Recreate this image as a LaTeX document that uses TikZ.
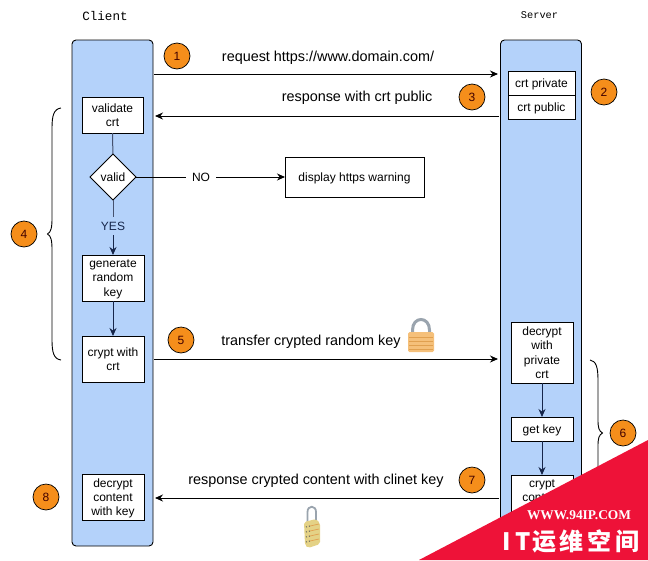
\documentclass[tikz,border=0pt]{standalone}
\usepackage{fontspec}
\setmainfont{Liberation Sans}
\newfontfamily\monofam{Liberation Mono}
\newfontfamily\wmserif{Liberation Serif}
\newfontfamily\cjkfam{Noto Sans CJK SC}
\usetikzlibrary{shapes.geometric,arrows.meta}
\definecolor{lane}{HTML}{B4D2FA}
\definecolor{badge}{HTML}{F58E1B}
\definecolor{navy}{HTML}{16264A}
\definecolor{wmred}{HTML}{EE1238}
\definecolor{lockor}{HTML}{F5C07A}
\definecolor{lockdk}{HTML}{E0A050}
\definecolor{lockgr}{HTML}{9AA4AE}
\definecolor{lockye}{HTML}{E4D286}
\tikzset{
  x=1pt,y=-1pt,
  every node/.style={font=\fontsize{12}{14}\selectfont,inner sep=0pt,outer sep=0pt},
  lanebox/.style={draw=black,line width=.9pt,fill=lane,rounded corners=4pt,minimum width=81pt,minimum height=506pt},
  stepbox/.style={draw=black,line width=.8pt,fill=white,align=center,text depth=0pt,font=\fontsize{12}{14.3}\selectfont},
  decision/.style={diamond,draw=black,line width=.8pt,fill=white,minimum width=46pt,minimum height=46pt,font=\fontsize{12}{13}\selectfont},
  badgenode/.style={circle,draw=black,line width=.7pt,fill=badge,minimum size=26pt,font=\fontsize{12}{13}\selectfont,text=black!75!red},
  msg/.style={draw=black,line width=.9pt,-{Stealth[length=8pt,width=7pt]}},
  plain/.style={draw=black,line width=.9pt},
  flow/.style={draw=navy,line width=.9pt,-{Stealth[length=8pt,width=7pt]}},
  flowplain/.style={draw=navy!80,line width=1pt},
  curly/.style={draw=black,line width=.9pt},
  msgtext/.style={font=\fontsize{14.4}{16}\selectfont}
}
\begin{document}
\begin{tikzpicture}
\useasboundingbox (0,0) rectangle (648,560);
% lanes
\node[lanebox] (client) at (112.5,293) {};
\node[lanebox] (server) at (541,293) {};
\node[font=\monofam\fontsize{12.6}{14}\selectfont] (clientlbl) at (105,16) {Client};
\node[font=\monofam\fontsize{10.3}{12}\selectfont] (serverlbl) at (539.5,15) {Server};
% client steps
\node[stepbox,minimum width=61pt,minimum height=36pt] (validate) at (112.5,115) {validate\\crt};
\node[decision] (valid) at (113,177) {valid};
\node[text=navy] (yes) at (113,226) {YES};
\node[stepbox,minimum width=62pt,minimum height=46pt] (generate) at (113,278) {generate\\random\\key};
\node[stepbox,minimum width=62pt,minimum height=46pt] (crypt) at (113,359) {crypt with\\crt};
\node[stepbox,minimum width=62pt,minimum height=46pt] (decc) at (113,497) {decrypt\\content\\with key};
\node (no) at (201,177) {NO};
\node[stepbox,minimum width=139pt,minimum height=40pt] (warn) at (354.5,177) {display https warning};
% server steps
\node[stepbox,minimum width=67pt,minimum height=24pt] (priv) at (541.5,83) {crt private};
\node[stepbox,minimum width=67pt,minimum height=24pt] (pub) at (541.5,107) {crt public};
\node[stepbox,minimum width=62pt,minimum height=61pt] (decs) at (542,352.5) {decrypt\\with\\private\\crt};
\node[stepbox,minimum width=62pt,minimum height=24pt] (getkey) at (542,429) {get key};
\node[stepbox,minimum width=62pt,minimum height=46pt] (cc) at (542,498) {crypt\\content\\\mbox{}};
% connector ends
\coordinate (c1) at (154,74); \coordinate (s1) at (498,74);
\coordinate (s3) at (499,116); \coordinate (c3) at (155,116);
\coordinate (c5) at (154,359); \coordinate (s5) at (498,359);
\coordinate (s7) at (499,498); \coordinate (c7) at (155,498);
% connectors
\draw[msg] (c1) -- (s1);
\draw[msg] (s3) -- (c3);
\draw[msg] (c5) -- (s5);
\draw[msg] (s7) -- (c7);
\draw[flowplain] (validate) -- (valid);
\draw[flowplain] (valid.south) -- ([yshift=5pt]yes.north);
\draw[flow] ([yshift=-5pt]yes.south) -- (generate.north);
\draw[flow] (generate) -- (crypt);
\draw[plain] (valid.east) -- ([xshift=-6pt]no.west);
\draw[msg] ([xshift=6pt]no.east) -- (warn.west);
\draw[flow] (decs) -- (getkey);
\draw[flow] (getkey) -- (cc);
% labels
\node[msgtext] (l1) at (328,58) {request https://www.domain.com/};
\node[msgtext] (l3) at (357,98) {response with crt public};
\node[msgtext] (l5) at (311,342) {transfer crypted random key};
\node[msgtext] (l7) at (316,481) {response crypted content with clinet key};
% badges
\node[badgenode] (b1) at (177,56) {1};
\node[badgenode] (b2) at (604,92) {2};
\node[badgenode] (b3) at (472,97) {3};
\node[badgenode] (b4) at (24,234) {4};
\node[badgenode] (b5) at (181,340) {5};
\node[badgenode] (b6) at (623,433) {6};
\node[badgenode] (b7) at (472,480) {7};
\node[badgenode] (b8) at (46,497) {8};
% braces
\draw[curly] (61,108) .. controls (54,109) and (52,115) .. (52,128) -- (52,218)
  .. controls (52,228) and (51,232) .. (47.5,234) .. controls (51,236) and (52,240) .. (52,250)
  -- (52,340) .. controls (52,353) and (54,359) .. (61,360);
\draw[curly] (590,360) .. controls (596,361) and (598,367) .. (598,380) -- (598,420)
  .. controls (598,428) and (599,431) .. (602.5,433) .. controls (599,435) and (598,438) .. (598,446)
  -- (598,490) .. controls (598,500) and (596,505) .. (590,506);
% big lock
\draw[lockgr,line width=3pt] (412.5,334) -- (412.5,330) .. controls (412.5,316) and (429.5,316) .. (429.5,330) -- (429.5,334);
\fill[lockor,rounded corners=1.5pt] (408,332) rectangle (434,352);
\foreach \yy in {337,341,345,349}{\draw[lockdk,line width=.8pt] (409,\yy) -- (433,\yy);}
% small lock
\draw[lockgr,line width=1.8pt] (307.5,522) -- (307.5,512) .. controls (307.5,505) and (316,505) .. (316,512) -- (316,524);
\fill[lockye,rounded corners=2pt] (304,522) -- (316,519) -- (320,523) -- (320,544) -- (308,548) -- (305,545) -- cycle;
\foreach \yy in {526,531,536,541}{\draw[black!65,line width=1pt,dotted] (306,\yy+1) -- (310,\yy);\draw[lockdk,line width=.7pt] (310,\yy) -- (319,\yy-2);}
% watermark
\fill[wmred] (648,440) -- (648,560) -- (419,560) -- cycle;
\node[text=white,font=\wmserif\bfseries\fontsize{13.4}{15}\selectfont] (wm1) at (579,515.5) {WWW.94IP.COM};
\node[text=white,font=\cjkfam\bfseries\fontsize{24}{26}\selectfont,text height=10pt,text depth=4pt] (wm2) at (571,547) {I\hspace{5pt}T\hspace{2pt}运\hspace{3pt}维\hspace{4pt}空\hspace{4pt}间};
\end{tikzpicture}
\end{document}
